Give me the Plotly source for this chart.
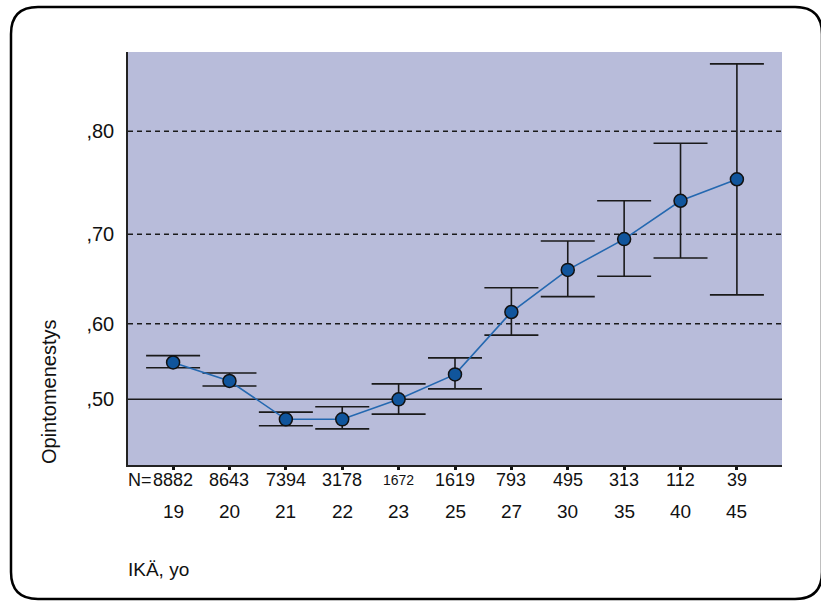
import numpy as np
import plotly.graph_objects as go

# ---- data -------------------------------------------------------------
ages = ["19", "20", "21", "22", "23", "25", "27", "30", "35", "40", "45"]
counts = ["8882", "8643", "7394", "3178", "1672", "1619", "793", "495", "313", "112", "39"]
means = [0.551, 0.526, 0.470, 0.470, 0.500, 0.535, 0.614, 0.662, 0.695, 0.734, 0.755]
ci_high = [0.560, 0.537, 0.481, 0.489, 0.522, 0.557, 0.642, 0.693, 0.734, 0.789, 0.859]
ci_low = [0.544, 0.519, 0.460, 0.455, 0.478, 0.515, 0.586, 0.632, 0.655, 0.675, 0.634]
y_ticks = [0.50, 0.60, 0.70, 0.80]
y_tick_text = [",50", ",60", ",70", ",80"]
y_range = [0.393, 0.869]

# The vertical scale of this chart is stretched quadratically, so values
# are placed on the axis through their squares.
def scale(v):
    return np.square(np.asarray(v, dtype=float))

m = scale(means)
hi = scale(ci_high)
lo = scale(ci_low)
xi = np.arange(len(ages))

W, H = 821, 601
L, R, T, B = 128, 39, 52, 136
PW, PH = W - L - R, H - T - B


def px(x):
    return (x - L) / PW


def py(y):
    return (H - B - y) / PH


FONT = "Liberation Sans, Arial, sans-serif"
INK = "#111111"

fig = go.Figure()
fig.add_trace(go.Scatter(
    x=xi, y=m, mode="lines+markers",
    line=dict(color="#2468b0", width=1.6),
    marker=dict(size=13, color="#10559c", line=dict(color="#111111", width=1.5)),
    error_y=dict(type="data", symmetric=False, array=hi - m, arrayminus=m - lo,
                 color="#1a1a1a", thickness=1.6, width=27),
    hoverinfo="skip", showlegend=False,
))

shapes = []
for v in y_ticks:
    sv = float(scale(v))
    shapes.append(dict(type="line", xref="paper", yref="y", x0=0, x1=1, y0=sv, y1=sv,
                       line=dict(color="#1a1a1a", width=1.5,
                                 dash="solid" if v == y_ticks[0] else "5px,4px"),
                       layer="below"))

# rounded frame around the whole chart
x0, x1, y0, y1, r = 11, 822, 7, 599, 27
rx, ry = r / PW, r / PH
X0, X1, Y0, Y1 = px(x0), px(x1), py(y0), py(y1)
path = (f"M {X0 + rx},{Y0} L {X1 - rx},{Y0} Q {X1},{Y0} {X1},{Y0 - ry} "
        f"L {X1},{Y1 + ry} Q {X1},{Y1} {X1 - rx},{Y1} "
        f"L {X0 + rx},{Y1} Q {X0},{Y1} {X0},{Y1 + ry} "
        f"L {X0},{Y0 - ry} Q {X0},{Y0} {X0 + rx},{Y0} Z")
shapes.append(dict(type="path", xref="paper", yref="paper", path=path,
                   line=dict(color="#000000", width=2.5), layer="above"))

ann = []
for i, (n, a) in enumerate(zip(counts, ages)):
    ann.append(dict(x=i, y=py(480), xref="x", yref="paper", text=n, showarrow=False,
                    font=dict(family=FONT, size=14 if n == "1672" else 18, color=INK),
                    xanchor="center", yanchor="middle"))
    ann.append(dict(x=i, y=py(511), xref="x", yref="paper", text=a, showarrow=False,
                    font=dict(family=FONT, size=19, color=INK),
                    xanchor="center", yanchor="middle"))
ann.append(dict(x=0, y=py(480), xref="x", yref="paper", text="N=", showarrow=False,
                xshift=-19, font=dict(family=FONT, size=18, color=INK),
                xanchor="right", yanchor="middle"))
ann.append(dict(x=px(126), y=py(569), xref="paper", yref="paper", text="IKÄ, yo",
                showarrow=False, font=dict(family=FONT, size=19, color=INK),
                xanchor="left", yanchor="middle"))
ann.append(dict(x=px(49), y=py(392), xref="paper", yref="paper", text="Opintomenestys",
                showarrow=False, textangle=-90, font=dict(family=FONT, size=20, color=INK),
                xanchor="center", yanchor="middle"))

fig.update_layout(
    width=W, height=H,
    margin=dict(l=L, r=R, t=T, b=B),
    paper_bgcolor="#ffffff", plot_bgcolor="#b8bcda",
    xaxis=dict(range=[-0.8, len(ages) - 0.2], tickvals=list(xi), showticklabels=False,
               ticks="outside", ticklen=3, tickwidth=3, tickcolor=INK,
               showline=True, linecolor="#222", linewidth=2, showgrid=False, zeroline=False,
               fixedrange=True),
    yaxis=dict(range=list(scale(y_range)), tickvals=list(scale(y_ticks)), ticktext=y_tick_text,
               ticks="", showline=True, linecolor="#222", linewidth=1.5, showgrid=False,
               zeroline=False, ticklabelstandoff=8,
               tickfont=dict(family=FONT, size=20, color=INK), fixedrange=True),
    shapes=shapes, annotations=ann,
)

fig.write_html("out.html")
